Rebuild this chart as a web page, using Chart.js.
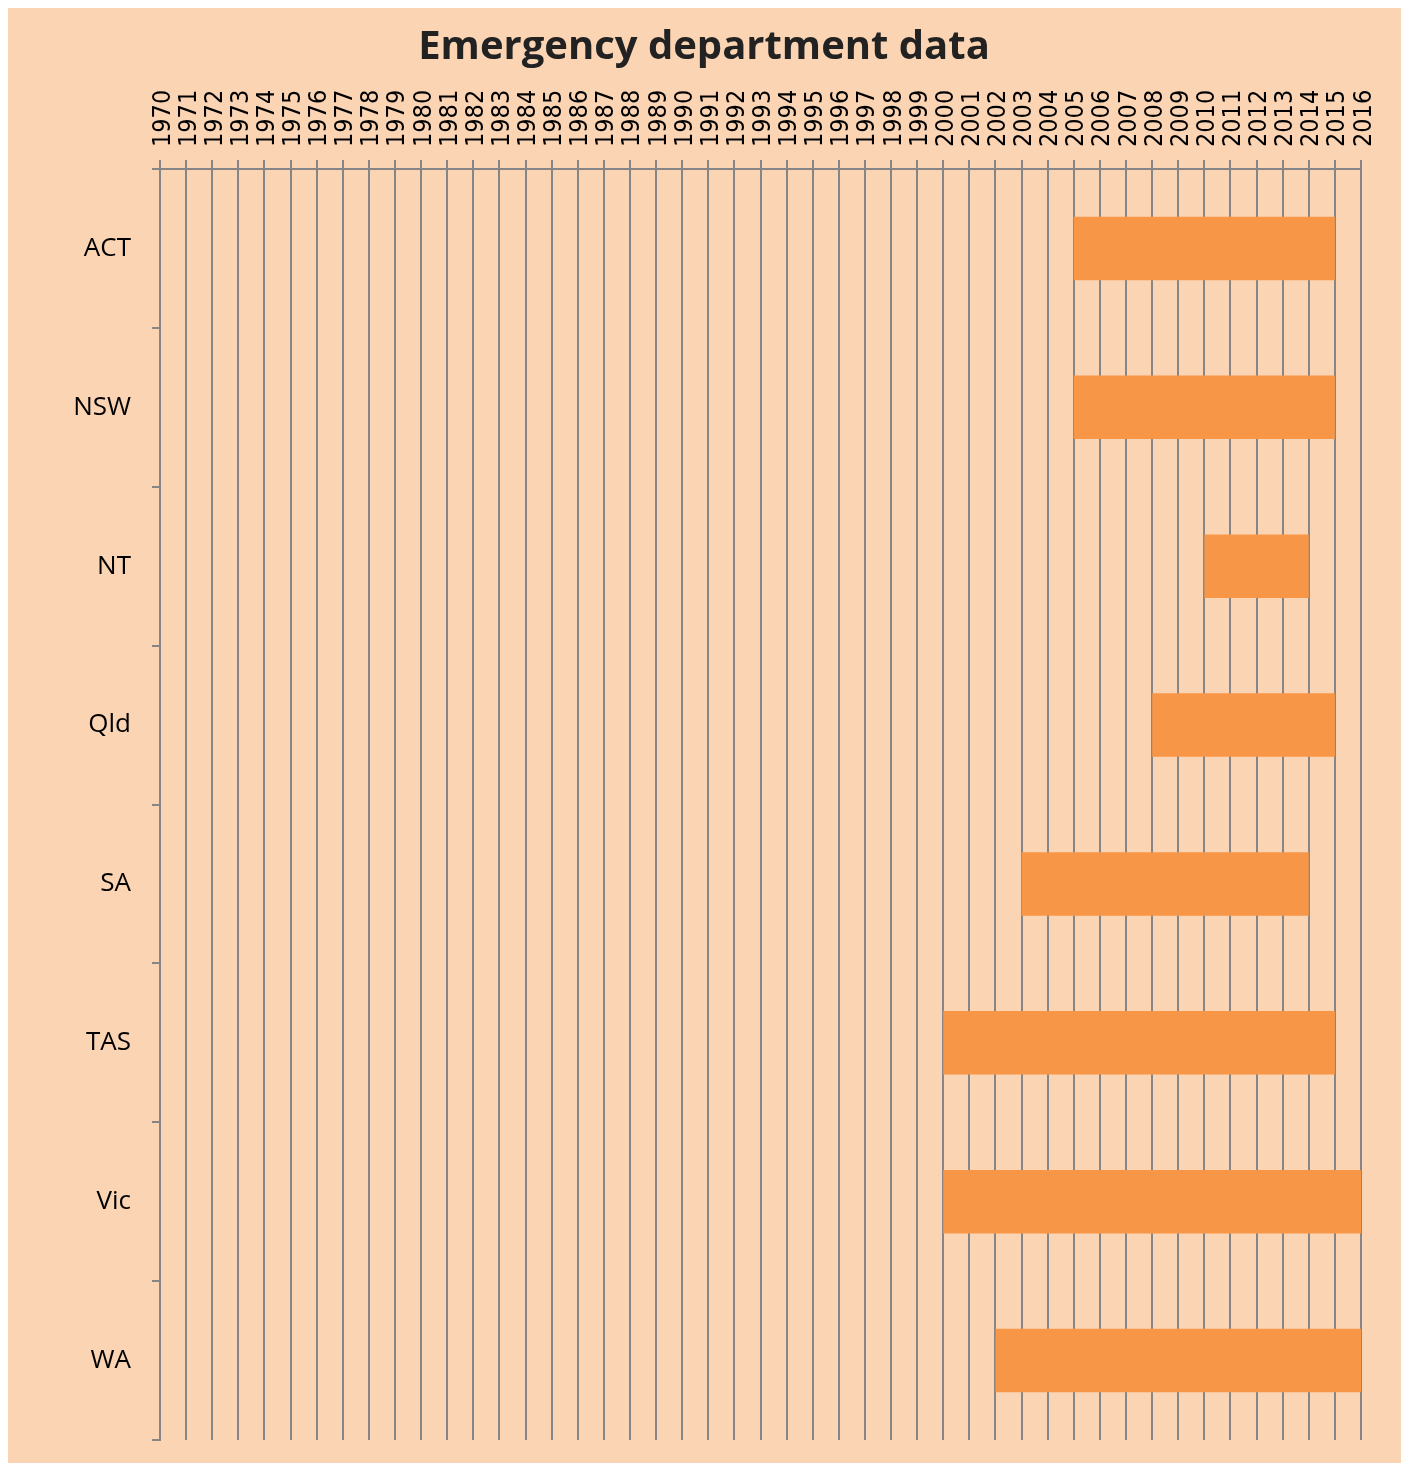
<!DOCTYPE html>
<html>
<head>
<meta charset="utf-8">
<script src="https://cdn.jsdelivr.net/npm/chart.js@4"></script>
<style>
  body { margin: 0; background: #ffffff; }
  canvas { display: block; }
</style>
</head>
<body>
<canvas id="ed-chart" width="1408" height="1470"></canvas>
<script>
const states = ["ACT", "NSW", "NT", "Qld", "SA", "TAS", "Vic", "WA"];
const startYears = [2005, 2005, 2010, 2008, 2003, 2000, 2000, 2002];
const endYears = [2015, 2015, 2014, 2015, 2014, 2015, 2016, 2016];
const firstYear = 1970;
const lastYear = 2016;

const gridColor = "#868686";
const peach = "#FBD4B4";
const barColor = "#F79646";

// paint white frame + peach chart background
const backgroundPlugin = {
  id: "bg",
  beforeDraw(chart) {
    const c = chart.ctx;
    c.save();
    c.fillStyle = "#ffffff";
    c.fillRect(0, 0, chart.width, chart.height);
    c.fillStyle = peach;
    c.fillRect(8, 8, 1393, 1455);
    c.restore();
  },
};

const ctx = document.getElementById("ed-chart");
new Chart(ctx, {
  type: "bar",
  data: {
    labels: states,
    datasets: [
      {
        data: states.map((s, i) => [startYears[i], endYears[i]]),
        backgroundColor: barColor,
        borderWidth: 0,
        borderSkipped: false,
        categoryPercentage: 1,
        barPercentage: 0.4,
      },
    ],
  },
  options: {
    indexAxis: "y",
    responsive: false,
    animation: false,
    layout: {
      padding: { left: 47, right: 47, top: 0, bottom: 30 },
    },
    plugins: {
      legend: { display: false },
      tooltip: { enabled: false },
      title: {
        display: true,
        text: "Emergency department data",
        color: "#222222",
        font: { family: "Open Sans", size: 40, weight: "bold" },
        padding: { top: 24, bottom: 8 },
      },
    },
    scales: {
      x: {
        type: "linear",
        position: "top",
        min: firstYear,
        max: lastYear,
        afterFit: (scale) => {
          scale.height = 89;
        },
        ticks: {
          stepSize: 1,
          autoSkip: false,
          minRotation: 90,
          maxRotation: 90,
          padding: 13,
          labelOffset: 33,
          color: "#000000",
          font: { family: "DejaVu Sans Condensed, DejaVu Sans", size: 25 },
          callback: (v) => String(v),
        },
        grid: {
          color: gridColor,
          lineWidth: 2,
          tickLength: 9,
        },
        border: { color: gridColor, width: 2 },
      },
      y: {
        afterFit: (scale) => {
          scale.width = 113;
          scale.paddingTop = 0;
          scale.paddingBottom = 0;
        },
        ticks: {
          padding: 21,
          color: "#000000",
          font: { family: "Open Sans", size: 26 },
        },
        grid: {
          drawOnChartArea: false,
          drawTicks: true,
          tickLength: 8,
          color: gridColor,
          lineWidth: 2,
        },
        border: { color: gridColor, width: 2 },
      },
    },
  },
  plugins: [backgroundPlugin],
});
</script>
</body>
</html>
